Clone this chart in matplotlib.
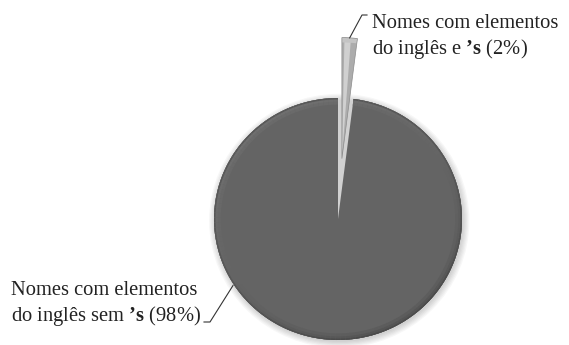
import numpy as np
import matplotlib.pyplot as plt
from matplotlib.patches import Wedge, Circle

plt.rcParams['font.family'] = ['Liberation Serif', 'DejaVu Serif']
plt.rcParams['mathtext.fontset'] = 'custom'
plt.rcParams['mathtext.rm'] = 'Liberation Serif'
plt.rcParams['mathtext.bf'] = 'Liberation Serif:bold'

# data
shares = [2, 98]
colors = ['#acacac', '#646464']
explode = [0.5, 0.0]
label_small = ['Nomes com elementos', 'do inglês e $\\mathbf{’s}$ (2%)']
label_big = ['Nomes com elementos', 'do inglês sem $\\mathbf{’s}$ (98%)']

W, H = 569, 345
cx, cy = 338, 219          # pie centre, pixels from top-left
rx, ry = 124, 121          # pixels per unit


def px(x, y):
    # pixel position -> data position
    return (x - cx) / rx, (cy - y) / ry


fig = plt.figure(figsize=(W / 100, H / 100), dpi=100)
ax = fig.add_axes([0, 0, 1, 1])

# soft shadow behind the pie
for k in range(6):
    ax.add_patch(Circle((0.01, -0.015), 1.0 + 0.01 * k, color='black',
                        alpha=0.03, lw=0, zorder=1))

wedges, _ = ax.pie(shares, colors=colors, explode=explode, startangle=82.8,
                   radius=1.0, wedgeprops=dict(linewidth=0, zorder=2),
                   frame=False)
ax.set_xlim(-cx / rx, (W - cx) / rx)
ax.set_ylim(-(H - cy) / ry, cy / ry)
ax.set_aspect('auto')
ax.axis('off')

# bevel rim on the big slice: lighter to the upper-left, darker lower-right
base = 0x64 / 255
big = wedges[1]
n = 150
angs = np.linspace(big.theta1, big.theta2, n + 1)
for a0, a1 in zip(angs[:-1], angs[1:]):
    m = np.deg2rad((a0 + a1) / 2)
    light = np.cos(m - np.deg2rad(120))
    for w, up, dn in [(0.055, 0.025, 0.03), (0.03, 0.045, 0.06), (0.012, 0.0, 0.1)]:
        g = base + up * max(light, 0) - dn * max(-light, 0)
        if w == 0.012:
            g = base - 0.05 - 0.05 * max(-light, 0)
        ax.add_patch(Wedge(big.center, 1.0, a0, a1, width=w,
                           color=(g, g, g), lw=0, zorder=3))

# highlight on the small wedge
sm = wedges[0]
mid = (sm.theta1 + sm.theta2) / 2
ax.add_patch(Wedge(sm.center, 1.0, sm.theta1 + 3.0, sm.theta2 - 1.2,
                   color='#d0d0d0', lw=0, zorder=3))
ax.add_patch(Wedge(sm.center, 1.0, sm.theta1, sm.theta2, width=0.04,
                   color='#c4c4c4', lw=0, zorder=3))
ax.add_patch(Wedge(sm.center, 1.0, sm.theta1, sm.theta2, fill=False,
                   edgecolor='#8c8c8c', lw=0.5, zorder=4))

# leader lines
tip = (sm.center[0] + np.cos(np.deg2rad(mid)), sm.center[1] + np.sin(np.deg2rad(mid)))
corner = px(362, 15)
stub = px(367, 15)
ax.plot([tip[0], corner[0], stub[0]], [tip[1], corner[1], stub[1]],
        color='#333333', lw=0.8, zorder=5)

a = np.deg2rad(213)
tip2 = (1.01 * np.cos(a), 1.01 * np.sin(a))
corner2 = px(210, 322)
stub2 = px(204, 322)
ax.plot([tip2[0], corner2[0], stub2[0]], [tip2[1], corner2[1], stub2[1]],
        color='#333333', lw=0.8, zorder=5)

# labels
for txt, (x, y) in zip(label_small, [px(372, 28), px(372, 54)]):
    ax.text(x, y, txt, ha='left', va='baseline', fontsize=14.8, color='#222222')
for txt, (x, y) in zip(label_big, [px(11, 295), px(11, 321)]):
    ax.text(x, y, txt, ha='left', va='baseline', fontsize=14.8, color='#222222')

fig.savefig('out.png', dpi=100, facecolor='white')
